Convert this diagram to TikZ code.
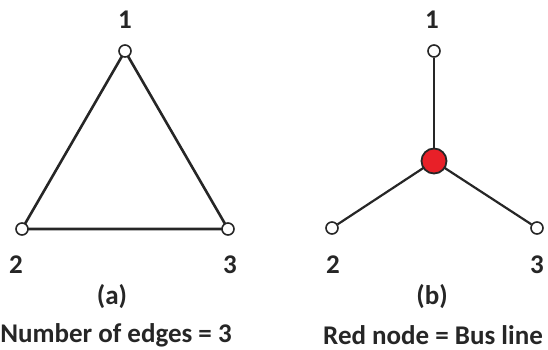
\documentclass[tikz,border=0pt]{standalone}
\usepackage{fontspec}
\setmainfont{Carlito}
\definecolor{busred}{RGB}{232,32,40}
\begin{document}
\begin{tikzpicture}[x=1pt,y=-1pt,
  lbl/.style={font=\bfseries\fontsize{27}{30}\selectfont, inner sep=0pt, text=black!85},
  small/.style={circle, draw=black!85, fill=white, line width=1.6pt, minimum size=12pt, inner sep=0pt},
  bus/.style={circle, draw=black!85, fill=busred, line width=1.8pt, minimum size=25pt, inner sep=0pt},
  edge/.style={draw=black!85, line width=2.6pt},
  spoke/.style={draw=black!85, line width=2.2pt}]
\useasboundingbox (0,0) rectangle (548,350);
% (a)
\coordinate (a1) at (125,51);
\coordinate (a2) at (22,229);
\coordinate (a3) at (228,229);
\draw[edge, line join=round] (a1) -- (a2) -- (a3) -- cycle;
\node[small] (na1) at (a1) {};
\node[small] (na2) at (a2) {};
\node[small] (na3) at (a3) {};
\node[lbl] (la1) at (125,20) {1};
\node[lbl] (la2) at (16,265) {2};
\node[lbl] (la3) at (230,265) {3};
\node[lbl] (capa) at (112,297) {(a)};
\node[lbl] (texta) at (116,335) {Number of edges = 3};
% (b)
\coordinate (b0) at (434,161);
\node[small] (nb1) at (434,51) {};
\node[small] (nb2) at (332,228) {};
\node[small] (nb3) at (537,228) {};
\draw[spoke] (nb1) -- (b0);
\draw[spoke] (nb2) -- (b0);
\draw[spoke] (nb3) -- (b0);
\node[bus] (bus) at (b0) {};
\node[lbl] (lb1) at (432,20) {1};
\node[lbl] (lb2) at (333,265) {2};
\node[lbl] (lb3) at (537,265) {3};
\node[lbl] (capb) at (432,297) {(b)};
\node[lbl] (textb) at (433,335) {Red node = Bus line};
\end{tikzpicture}
\end{document}
